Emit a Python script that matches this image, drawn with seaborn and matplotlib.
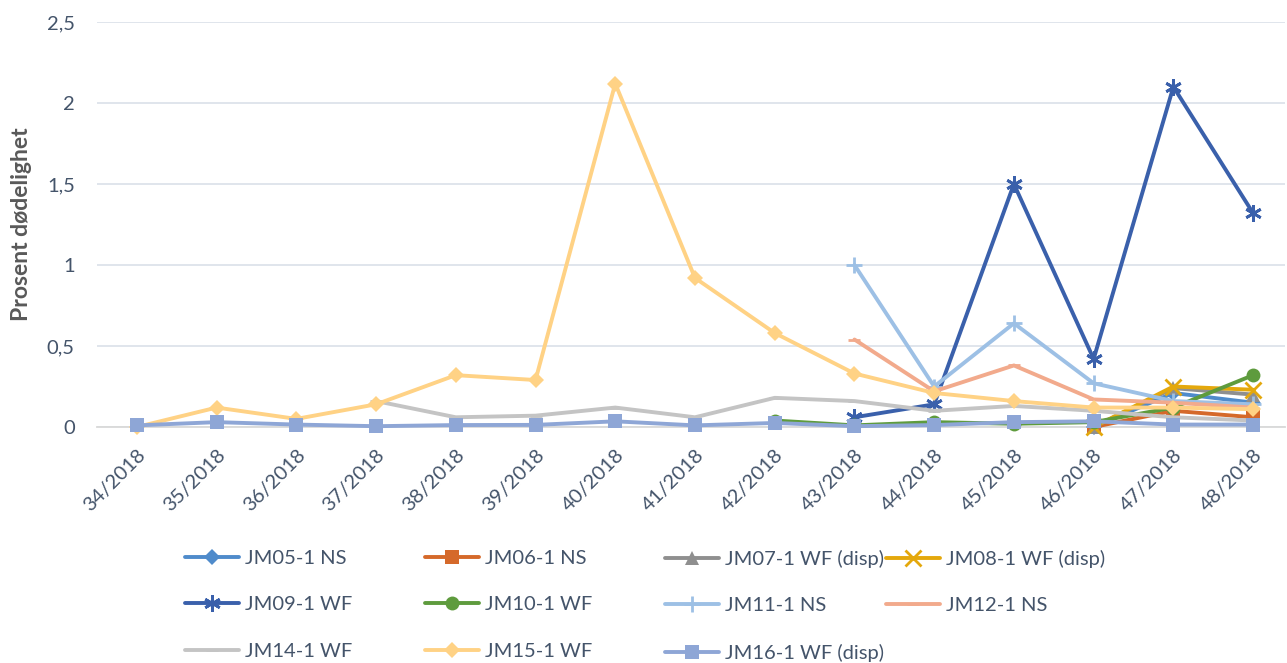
import numpy as np
import pandas as pd
import matplotlib
matplotlib.use("Agg")
import matplotlib.pyplot as plt
from matplotlib.ticker import FuncFormatter, FixedLocator
import seaborn as sns

# Data
weeks = ["34/2018", "35/2018", "36/2018", "37/2018", "38/2018", "39/2018", "40/2018",
         "41/2018", "42/2018", "43/2018", "44/2018", "45/2018", "46/2018", "47/2018", "48/2018"]
nan = np.nan
jm05 = [nan] * 12 + [0.00, 0.21, 0.15]
jm06 = [nan] * 12 + [0.00, 0.10, 0.06]
jm07 = [nan] * 12 + [0.00, 0.24, 0.20]
jm08 = [nan] * 12 + [0.00, 0.25, 0.23]
jm09 = [nan] * 9 + [0.06, 0.14, 1.50, 0.42, 2.10, 1.32]
jm10 = [nan] * 8 + [0.04, 0.01, 0.03, 0.02, 0.03, 0.12, 0.32]
jm11 = [nan] * 9 + [1.00, 0.25, 0.64, 0.27, 0.16, 0.14]
jm12 = [nan] * 9 + [0.54, 0.22, 0.38, 0.17, 0.15, 0.12]
jm14 = [nan] * 3 + [0.16, 0.06, 0.07, 0.12, 0.06, 0.18, 0.16, 0.10, 0.13, 0.10, 0.06, 0.04]
jm15 = [0.00, 0.12, 0.05, 0.14, 0.32, 0.29, 2.12, 0.92, 0.58, 0.33, 0.21, 0.16, 0.12, 0.12, 0.11]
jm16 = [0.01, 0.03, 0.015, 0.005, 0.012, 0.013, 0.035, 0.01, 0.025, 0.005, 0.012, 0.03, 0.035, 0.015, 0.015]

names = ["JM05-1 NS", "JM06-1 NS", "JM07-1 WF (disp)", "JM08-1 WF (disp)", "JM09-1 WF",
         "JM10-1 WF", "JM11-1 NS", "JM12-1 NS", "JM14-1 WF", "JM15-1 WF", "JM16-1 WF (disp)"]
values = [jm05, jm06, jm07, jm08, jm09, jm10, jm11, jm12, jm14, jm15, jm16]

colors = ["#4F8BCB", "#D5692A", "#8F8F8F", "#E4A80C", "#3A60AB", "#5E9B3D",
          "#9DC0E5", "#F2AA8C", "#C4C4C4", "#FFD285", "#8EA6D6"]
markers = ["D", "s", "^", "x", (6, 2, 0), "o", "+", "_", "_", "D", "s"]
msizes = [8, 10, 10, 11, 12, 10, 12, 9, 9, 8, 10]

rows = []
for name, vals in zip(names, values):
    for i, v in enumerate(vals):
        rows.append({"serie": name, "pos": i, "value": v})
df = pd.DataFrame(rows).dropna()

sns.set_style("white")
plt.rcParams["font.family"] = ["Lato", "DejaVu Sans"]
text_col = "#44546A"

fig = plt.figure(figsize=(12.87, 6.63), dpi=100)
ax = fig.add_axes([97 / 1287, 1 - 427 / 663, 1188 / 1287, 405 / 663])

for name, col, mk, ms in zip(names, colors, markers, msizes):
    sub = df[df["serie"] == name]
    sns.lineplot(data=sub, x="pos", y="value", ax=ax, color=col, marker=mk,
                 markersize=ms, markeredgewidth=2 if mk in ("x", "+", "_") or isinstance(mk, tuple) else 0,
                 markeredgecolor=col, markerfacecolor=col, linewidth=2.8, label=name,
                 clip_on=False, zorder=3)

handles, labels = ax.get_legend_handles_labels()
if ax.get_legend() is not None:
    ax.get_legend().remove()

ax.set_xlim(-0.5, 14.4)
ax.set_ylim(0, 2.5)
ax.set_yticks(np.arange(0, 2.51, 0.5))
ax.yaxis.set_major_formatter(FuncFormatter(lambda v, p: f"{v:g}".replace(".", ",")))
ax.set_xticks(range(len(weeks)))
ax.set_xticklabels(weeks, rotation=45, ha="right", rotation_mode="anchor")
ax.xaxis.set_minor_locator(FixedLocator(np.arange(-0.5, 14.6, 1)))
ax.tick_params(axis="x", which="major", length=0, pad=14, labelsize=14.5, labelcolor=text_col)
ax.tick_params(axis="x", which="minor", length=6, color="#D9D9D9", width=1)
ax.tick_params(axis="y", length=0, pad=16, labelsize=14.5, labelcolor=text_col)

ax.yaxis.grid(True, color="#DDE3EA", linewidth=1.3)
ax.set_axisbelow(True)
for s in ["top", "right", "left"]:
    ax.spines[s].set_visible(False)
ax.spines["bottom"].set_color("#D9D9D9")
ax.spines["bottom"].set_linewidth(1.3)

ax.set_xlabel("")
ax.set_ylabel("Prosent dødelighet", fontsize=16.5, fontweight="bold", color="#595959")
ax.yaxis.set_label_coords(-0.055, 0.5)

# legend: rows of four, fixed column positions
col_x = [185, 425, 665, 886]
for c in range(4):
    idx = [i for i in range(c, len(handles), 4)]
    fig.legend([handles[i] for i in idx], [labels[i] for i in idx],
               loc="upper left", bbox_to_anchor=(col_x[c] / 1287, 1 - 550 / 663),
               frameon=False, fontsize=14.5, labelcolor=text_col, handlelength=2.7,
               handletextpad=0.3, labelspacing=1.45, borderpad=0, borderaxespad=0)

fig.savefig("out.png", dpi=100)
